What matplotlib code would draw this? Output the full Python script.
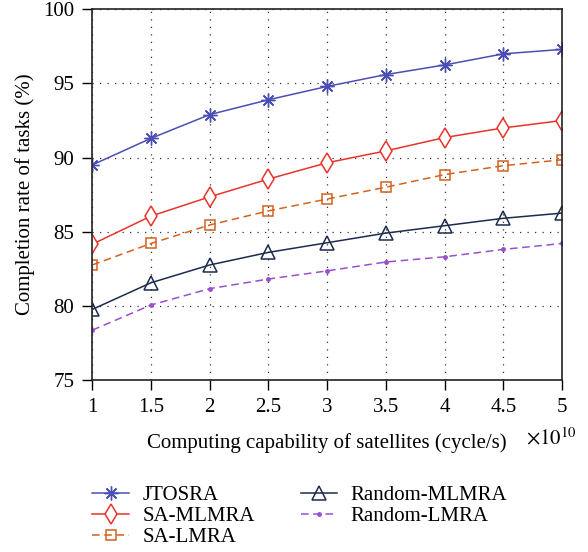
import matplotlib
matplotlib.use('Agg')
import matplotlib.pyplot as plt

plt.rcParams['font.family'] = ['Liberation Serif', 'DejaVu Serif']
plt.rcParams['mathtext.fontset'] = 'stix'

# значения
capability = [1, 1.5, 2, 2.5, 3, 3.5, 4, 4.5, 5]
jtosra = [89.5, 91.3, 92.9, 93.9, 94.8, 95.6, 96.25, 97.0, 97.3]
sa_mlmra = [84.15, 86.05, 87.35, 88.55, 89.65, 90.45, 91.35, 92.0, 92.5]
sa_lmra = [82.75, 84.2, 85.45, 86.4, 87.2, 88.0, 88.85, 89.45, 89.85]
random_mlmra = [79.75, 81.55, 82.75, 83.6, 84.25, 84.9, 85.4, 85.9, 86.25]
random_lmra = [78.35, 80.05, 81.15, 81.8, 82.35, 82.95, 83.3, 83.8, 84.2]

names = ['JTOSRA', 'SA-MLMRA', 'SA-LMRA', 'Random-MLMRA', 'Random-LMRA']
xticks = [1, 1.5, 2, 2.5, 3, 3.5, 4, 4.5, 5]
yticks = [75, 80, 85, 90, 95, 100]

fig = plt.figure(figsize=(5.88, 5.52), dpi=100)
ax = fig.add_axes([0.157, 0.312, 0.799, 0.671])

ax.plot(capability, jtosra, color='#4a4fb3', lw=1.1, marker=(8, 2, 0), ms=10,
        mew=1.0, label=names[0])
ax.plot(capability, sa_mlmra, color='#e8342a', lw=1.1, marker='d', ms=10.5,
        mfc='white', mew=1.1, label=names[1])
ax.plot(capability, sa_lmra, color='#d4621e', lw=1.1, ls=(0, (5, 3)), marker='s', ms=7.5,
        mfc='none', mew=1.1, label=names[2])
ax.plot(capability, random_mlmra, color='#1e2b4f', lw=1.1, marker='^', ms=10,
        mfc='none', mew=1.1, label=names[3])
ax.plot(capability, random_lmra, color='#9a4fd0', lw=1.1, ls=(0, (5, 3)), marker='.', ms=5,
        label=names[4])

ax.set_xlim(1, 5)
ax.set_ylim(75, 100)
ax.set_xticks(xticks)
ax.set_xticklabels(['1', '1.5', '2', '2.5', '3', '3.5', '4', '4.5', '5'])
ax.set_yticks(yticks)
ax.grid(True, ls=(0, (1, 5)), color='#333333', lw=0.9)
ax.tick_params(direction='out', length=7, width=1.0, labelsize=15, pad=6,
               top=False, right=False)
for s in ax.spines.values():
    s.set_linewidth(1.2)
    s.set_color('#222222')

ax.set_xlabel('Computing capability of satellites (cycle/s)', fontsize=15, labelpad=12)
ax.set_ylabel('Completion rate of tasks (%)', fontsize=15, labelpad=6)
fig.text(0.895, 0.205, r'$\times10^{10}$', fontsize=15, ha='left', va='center')

ax.legend(loc='upper left', bbox_to_anchor=(0.0, -0.285), ncol=2, frameon=False,
          fontsize=15, handlelength=1.75, columnspacing=2.2, labelspacing=0.08,
          handletextpad=0.65, borderpad=0, borderaxespad=0)

fig.savefig('out.png', dpi=100)
